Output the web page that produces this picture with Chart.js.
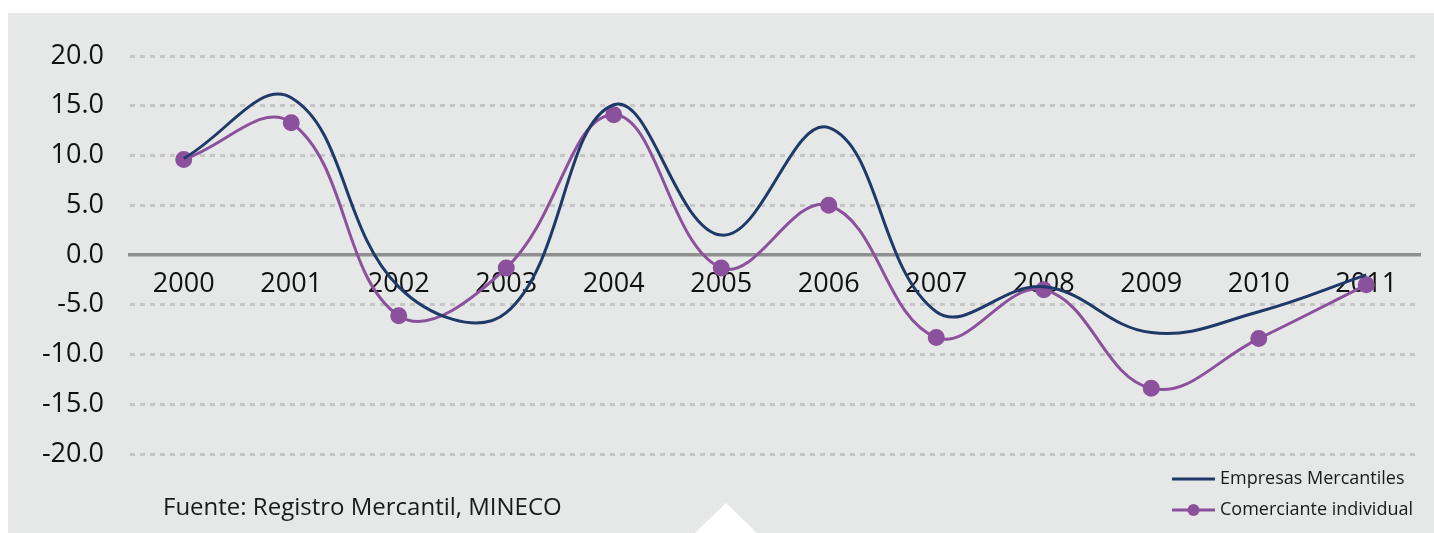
<!DOCTYPE html>
<html>
<head>
<meta charset="utf-8">
<script src="https://cdn.jsdelivr.net/npm/chart.js@4.4.1/dist/chart.umd.min.js"></script>
<style>
  html, body { margin: 0; padding: 0; background: #ffffff; width: 1434px; height: 533px; overflow: hidden; }
  #bg { position: absolute; left: 8px; top: 13px; width: 1426px; height: 520px; background: #e6e7e7; }
  #tri { position: absolute; left: 695px; top: 503px; width: 0; height: 0;
         border-left: 31px solid transparent; border-right: 31px solid transparent; border-bottom: 30px solid #ffffff; }
  #c { position: absolute; left: 0; top: 0; }
</style>
</head>
<body>
<div id="bg"></div>
<div id="tri"></div>
<canvas id="c" width="1434" height="533"></canvas>
<script>
const years = ['2000','2001','2002','2003','2004','2005','2006','2007','2008','2009','2010','2011'];
const empresasMercantiles = [9.7, 15.8, -3.2, -5.8, 15.1, 2.0, 12.8, -5.7, -3.2, -7.8, -5.7, -2.0];
const comercianteIndividual = [9.6, 13.3, -6.1, -1.3, 14.1, -1.3, 5.0, -8.3, -3.5, -13.4, -8.4, -3.0];
const seriesNames = ['Empresas Mercantiles', 'Comerciante individual'];
const sourceText = 'Fuente: Registro Mercantil, MINECO';
const yMin = -20, yMax = 20, yStep = 5;

const NAVY = '#1f3a68';
const PURPLE = '#8b519c';
const FONT = '"Open Sans", "Noto Sans", sans-serif';

const extrasPlugin = {
  id: 'extras',
  afterDraw(chart) {
    const ctx = chart.ctx;
    ctx.save();
    // source note
    ctx.fillStyle = '#1a1a1a';
    ctx.font = '24px ' + FONT;
    ctx.textBaseline = 'alphabetic';
    ctx.textAlign = 'left';
    ctx.fillText(sourceText, 163, 515);
    // legend
    const rows = [479, 510];
    chart.data.datasets.forEach((ds, i) => {
      const y = rows[i];
      ctx.strokeStyle = ds.borderColor;
      ctx.lineWidth = 3;
      ctx.beginPath();
      ctx.moveTo(1172, y);
      ctx.lineTo(1215, y);
      ctx.stroke();
      if (ds.pointRadius > 0) {
        ctx.fillStyle = ds.pointBackgroundColor;
        ctx.beginPath();
        ctx.arc(1193.5, y, 6, 0, Math.PI * 2);
        ctx.fill();
      }
      ctx.fillStyle = '#1a1a1a';
      ctx.font = '18px ' + FONT;
      ctx.textBaseline = 'middle';
      ctx.fillText(ds.label, 1220, y);
    });
    ctx.restore();
  }
};

new Chart(document.getElementById('c'), {
  type: 'line',
  data: {
    labels: years,
    datasets: [
      {
        label: seriesNames[0],
        data: empresasMercantiles,
        borderColor: NAVY,
        backgroundColor: NAVY,
        borderWidth: 3,
        pointRadius: 0,
        pointHoverRadius: 0,
        tension: 0.4,
        fill: false
      },
      {
        label: seriesNames[1],
        data: comercianteIndividual,
        borderColor: PURPLE,
        backgroundColor: PURPLE,
        pointBackgroundColor: PURPLE,
        pointBorderColor: PURPLE,
        borderWidth: 3,
        pointRadius: 7,
        pointHoverRadius: 7,
        tension: 0.4,
        fill: false
      }
    ]
  },
  options: {
    responsive: false,
    animation: false,
    devicePixelRatio: 1,
    layout: { padding: { top: 56, bottom: 79, left: 0, right: 14 } },
    plugins: {
      legend: { display: false },
      tooltip: { enabled: false },
      title: { display: false }
    },
    scales: {
      x: {
        type: 'category',
        position: { y: 0 },
        offset: true,
        z: 1,
        grid: { display: true, color: 'rgba(0,0,0,0)', drawTicks: false },
        border: { display: true, color: '#8f8f90', width: 3.5 },
        ticks: {
          color: '#111111',
          font: { family: FONT, size: 27 },
          padding: 13,
          maxRotation: 0,
          autoSkip: false
        }
      },
      y: {
        min: yMin,
        max: yMax,
        afterFit(scale) { scale.width = 130; },
        grid: {
          drawTicks: false,
          color: (ctx) => (ctx.tick && ctx.tick.value === 0) ? 'rgba(0,0,0,0)' : '#c6c6c6',
          lineWidth: 3
        },
        border: { display: false, dash: [5, 5] },
        ticks: {
          stepSize: yStep,
          color: '#111111',
          font: { family: FONT, size: 27 },
          padding: 26,
          callback: (v) => Number(v).toFixed(1)
        }
      }
    }
  },
  plugins: [extrasPlugin]
});
</script>
</body>
</html>
